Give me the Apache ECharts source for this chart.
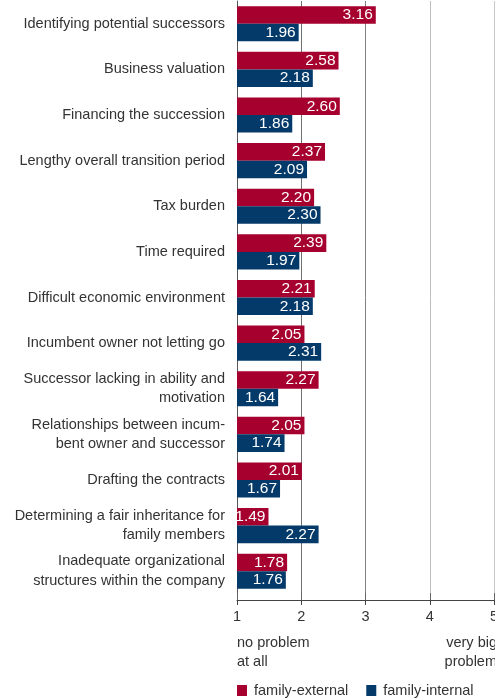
<!DOCTYPE html>
<html>
<head>
<meta charset="utf-8">
<script src="https://cdn.jsdelivr.net/npm/echarts@6/dist/echarts.min.js"></script>
<style>
  html, body { margin: 0; padding: 0; background: #fff; }
  #chart { width: 495px; height: 699px; }
</style>
</head>
<body>
<div id="chart"></div>
<script>
// Problems in business succession, mean rating (1 = no problem at all, 5 = very big problem)
const categories = [
  'Identifying potential successors',
  'Business valuation',
  'Financing the succession',
  'Lengthy overall transition period',
  'Tax burden',
  'Time required',
  'Difficult economic environment',
  'Incumbent owner not letting go',
  'Successor lacking in ability and\nmotivation',
  'Relationships between incum-\nbent owner and successor',
  'Drafting the contracts',
  'Determining a fair inheritance for\nfamily members',
  'Inadequate organizational\nstructures within the company'
];
const familyExternal = [3.16, 2.58, 2.60, 2.37, 2.20, 2.39, 2.21, 2.05, 2.27, 2.05, 2.01, 1.49, 1.78];
const familyInternal = [1.96, 2.18, 1.86, 2.09, 2.30, 1.97, 2.18, 2.31, 1.64, 1.74, 1.67, 2.27, 1.76];
const scaleTicks = [1, 2, 3, 4, 5];
const scaleEnds = ['no problem\nat all', 'very big\nproblem'];

const FONT = '"Liberation Sans", Arial, Helvetica, sans-serif';
const RED = '#a6002f';
const BLUE = '#043a69';

const chart = echarts.init(document.getElementById('chart'), null, { renderer: 'canvas' });

const barLabel = {
  show: true,
  position: 'insideRight',
  distance: 3,
  color: '#fff',
  fontFamily: FONT,
  fontSize: 15.5,
  formatter: p => p.value.toFixed(2)
};

chart.setOption({
  animation: false,
  textStyle: { fontFamily: FONT },
  grid: { left: 237, width: 257, top: 1, height: 593, containLabel: false, outerBoundsMode: 'none' },
  xAxis: [
    {
      type: 'value',
      min: scaleTicks[0],
      max: scaleTicks[scaleTicks.length - 1],
      interval: 1,
      startValue: scaleTicks[0],
      position: 'bottom',
      offset: 6,
      axisLine: { show: true, lineStyle: { color: '#444', width: 1 } },
      axisTick: { show: true, length: 5, lineStyle: { color: '#444' } },
      axisLabel: { color: '#333', fontSize: 14.5, fontFamily: FONT, margin: 9, showMaxLabel: true, hideOverlap: false },
      splitLine: {
        show: true,
        lineStyle: { color: ['#555', '#707070', '#808080', '#bdbdbd', '#c8c8c8'], width: 1 }
      }
    },
    {
      type: 'value',
      min: scaleTicks[0],
      max: scaleTicks[scaleTicks.length - 1],
      interval: 1,
      position: 'bottom',
      offset: 6,
      axisLine: { show: false },
      axisTick: { show: true, inside: true, length: 7, lineStyle: { color: '#666' } },
      axisLabel: { show: false },
      splitLine: { show: false }
    }
  ],
  yAxis: {
    type: 'category',
    data: categories,
    inverse: true,
    axisLine: { show: true, lineStyle: { color: '#555', width: 1 } },
    axisTick: { show: false },
    axisLabel: {
      color: '#333',
      fontSize: 14.5,
      fontFamily: FONT,
      margin: 12,
      lineHeight: 19.5,
      align: 'right'
    },
    splitLine: { show: false }
  },
  legend: {
    left: 232,
    top: 678,
    itemWidth: 10,
    itemHeight: 11,
    itemGap: 18,
    icon: 'rect',
    textStyle: { color: '#333', fontSize: 14.5, fontFamily: FONT, padding: [0, 0, 0, 2] },
    data: ['family-external', 'family-internal']
  },
  graphic: [
    {
      type: 'text',
      left: 237,
      top: 633,
      style: { text: scaleEnds[0], fill: '#333', font: '14.5px ' + FONT, lineHeight: 19.5 }
    },
    {
      type: 'text',
      x: 497,
      y: 633,
      style: { text: scaleEnds[1], fill: '#333', font: '14.5px ' + FONT, lineHeight: 19.5, align: 'right' }
    }
  ],
  series: [
    {
      name: 'family-external',
      type: 'bar',
      data: familyExternal,
      itemStyle: { color: RED },
      barGap: '0%',
      barCategoryGap: '23%',
      label: barLabel,
      clip: true
    },
    {
      name: 'family-internal',
      type: 'bar',
      data: familyInternal,
      itemStyle: { color: BLUE },
      barGap: '0%',
      barCategoryGap: '23%',
      label: barLabel,
      clip: true
    }
  ]
});
</script>
</body>
</html>
